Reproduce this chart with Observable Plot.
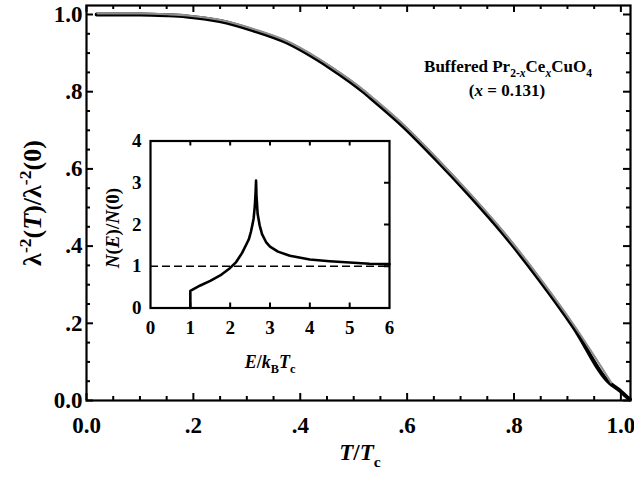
<!DOCTYPE html>
<html><head><meta charset="utf-8">
<script src="https://cdn.jsdelivr.net/npm/d3@7"></script>
<script src="https://cdn.jsdelivr.net/npm/@observablehq/plot@0.6"></script>
<style>
body{margin:0;background:#fff;}
#wrap{position:relative;width:634px;height:478px;background:#fff;}
#wrap svg{position:absolute;}
#wrap svg text{font-family:'Liberation Serif','Times New Roman',serif !important;}
</style></head><body><div id="wrap"></div>
<script>
// ---- main curve: superfluid density λ^-2(T)/λ^-2(0) vs T/Tc ----
const dataT = [0.019, 0.06, 0.10, 0.15, 0.187, 0.249, 0.312, 0.374, 0.43, 0.456, 0.519, 0.531, 0.593, 0.656, 0.718, 0.780, 0.849, 0.911, 0.980];
const dataL = [1.000, 1.000, 1.000, 0.998, 0.995, 0.983, 0.959, 0.928, 0.885, 0.862, 0.799, 0.785, 0.710, 0.622, 0.530, 0.432, 0.310, 0.191, 0.044];
// black fit continues past the data down to zero
const tailT = [0.99, 0.998, 1.008, 1.017];
const tailL = [0.034, 0.026, 0.013, 0.003];

// ---- inset: density of states N(E)/N(0) vs E/kBTc ----
const insetE = [1.0, 1.0, 1.25, 1.5, 1.75, 2.0, 2.15, 2.3, 2.42, 2.47, 2.52, 2.56, 2.59, 2.62, 2.64, 2.65, 2.66, 2.69, 2.74, 2.8, 2.9, 3.0, 3.2, 3.5, 4.0, 4.5, 5.0, 5.5, 6.0];
const insetN = [0.0, 0.41, 0.54, 0.65, 0.78, 0.96, 1.10, 1.32, 1.55, 1.65, 1.82, 2.0, 2.15, 2.45, 2.8, 3.05, 2.7, 2.25, 1.98, 1.77, 1.58, 1.47, 1.35, 1.25, 1.16, 1.12, 1.09, 1.06, 1.05];
const insetRef = [1];

// ---- ticks ----
const mainMajor = [0, 0.2, 0.4, 0.6, 0.8, 1.0];
const mainMajorLabels = ["0.0", ".2", ".4", ".6", ".8", "1.0"];
const mainMinor = [0.05, 0.1, 0.15, 0.25, 0.3, 0.35, 0.45, 0.5, 0.55, 0.65, 0.7, 0.75, 0.85, 0.9, 0.95];
const insetXTicks = [0, 1, 2, 3, 4, 5, 6];
const insetYTicks = [0, 1, 2, 3, 4];

const FONT = "'Liberation Serif', 'Times New Roman', serif";

const W = 634, H = 478, mL = 86, mR = 4, mT = 5, mB = 78;
const iw = W - mL - mR, ih = H - mT - mB;
const blackT = dataT.concat(tailT), blackL = dataL.concat(tailL);
const blackRows = blackT.map((t, i) => ({t, v: blackL[i]}));
const grayRows = dataT.map((t, i) => ({t, v: dataL[i]}));
const fmtMain = d => mainMajorLabels[mainMajor.findIndex(m => Math.abs(m - d) < 1e-9)];

const main = Plot.plot({
  width: W, height: H, marginLeft: mL, marginRight: mR, marginTop: mT, marginBottom: mB,
  x: {domain: [0, 1.018]},
  y: {domain: [0, 1.0233]},
  style: {fontFamily: FONT, fontWeight: "bold", fontSize: "21px", color: "#000", background: "transparent", overflow: "visible"},
  marks: [
    Plot.line(blackRows, {x: "t", y: "v", stroke: "#000", strokeWidth: 4, curve: "monotone-x"}),
    Plot.line(grayRows, {x: "t", y: "v", stroke: "#8e8e8e", strokeWidth: 2.1, dx: 1.0, dy: -1.0, curve: "monotone-x"}),
    // inward ticks bottom / top
    Plot.tickX(mainMajor, {x: d => d, insetTop: ih - 7, strokeWidth: 2}),
    Plot.tickX(mainMinor, {x: d => d, insetTop: ih - 4, strokeWidth: 2}),
    Plot.tickX(mainMajor, {x: d => d, insetBottom: ih - 7, strokeWidth: 2}),
    Plot.tickX(mainMinor, {x: d => d, insetBottom: ih - 4, strokeWidth: 2}),
    // inward ticks left / right
    Plot.tickY(mainMajor, {y: d => d, insetRight: iw - 7, strokeWidth: 2}),
    Plot.tickY(mainMinor, {y: d => d, insetRight: iw - 4, strokeWidth: 2}),
    Plot.tickY(mainMajor, {y: d => d, insetLeft: iw - 7, strokeWidth: 2}),
    Plot.tickY(mainMinor, {y: d => d, insetLeft: iw - 4, strokeWidth: 2}),
    Plot.frame({strokeWidth: 2.2}),
    Plot.axisX(mainMajor, {tickSize: 0, tickPadding: 16, tickFormat: fmtMain, label: null, fontSize: 23, fontFamily: FONT, fontWeight: "bold"}),
    Plot.axisY(mainMajor, {tickSize: 0, tickPadding: 4, tickFormat: fmtMain, label: null, fontSize: 23, fontFamily: FONT, fontWeight: "bold"})
  ]
});
main.style.left = "0px"; main.style.top = "0px"; main.style.width = W + "px"; main.style.maxWidth = "none";

// inset
const IL = 100, IT = 120, IW = 300, IH = 260;
const imL = 50, imR = IW - 289, imT = 20.5, imB = IH - 187.5;
const iiw = IW - imL - imR, iih = IH - imT - imB;
const insetRows = insetE.map((e, i) => ({e, n: insetN[i]}));
const inner = [1, 2, 3, 4, 5];
const inset = Plot.plot({
  width: IW, height: IH, marginLeft: imL, marginRight: imR, marginTop: imT, marginBottom: imB,
  x: {domain: [0, 6]},
  y: {domain: [0, 4]},
  style: {fontFamily: FONT, fontWeight: "bold", fontSize: "18px", color: "#000", background: "transparent", overflow: "visible"},
  marks: [
    Plot.ruleY(insetRef, {y: d => d, stroke: "#000", strokeWidth: 1.6, strokeDasharray: "8,4"}),
    Plot.line(insetRows, {x: "e", y: "n", stroke: "#000", strokeWidth: 2.6, curve: "linear"}),
    Plot.tickX(inner, {x: d => d, insetTop: iih - 5, strokeWidth: 2}),
    Plot.tickX(inner, {x: d => d, insetBottom: iih - 5, strokeWidth: 2}),
    Plot.tickY([1, 2, 3], {y: d => d, insetLeft: iiw - 5, strokeWidth: 2}),
    Plot.frame({strokeWidth: 2.2}),
    Plot.axisX(insetXTicks, {tickSize: 0, tickPadding: 12, label: null, fontSize: 19, fontFamily: FONT, fontWeight: "bold"}),
    Plot.axisY(insetYTicks, {tickSize: 0, tickPadding: 9, label: null, fontSize: 19, fontFamily: FONT, fontWeight: "bold"})
  ]
});
inset.style.left = IL + "px"; inset.style.top = IT + "px"; inset.style.width = IW + "px"; inset.style.maxWidth = "none";

const wrap = document.getElementById("wrap");
wrap.appendChild(main);
wrap.appendChild(inset);

function rich(svg, x, y, parts, size, rotate = 0, anchor = "middle") {
  const t = d3.select(svg).append("text")
    .attr("transform", `translate(${x},${y}) rotate(${rotate})`)
    .attr("text-anchor", anchor).attr("font-family", FONT).attr("font-weight", "bold")
    .attr("font-size", size).attr("fill", "#000").attr("stroke", "none");
  let cur = 0;
  for (const [s, o = {}] of parts) {
    const shift = o.sub ? size * 0.3 : o.sup ? -size * 0.4 : 0;
    const ts = t.append("tspan").text(s).attr("dy", shift - cur);
    if (o.sub || o.sup) ts.attr("font-size", size * 0.68);
    if (o.it) ts.attr("font-style", "italic");
    cur = shift;
  }
  return t;
}

// main axis titles
rich(main, 360, 460, [["T", {it: 1}], ["/"], ["T", {it: 1}], ["c", {sub: 1}]], 23);
rich(main, 41, 203, [["λ"], ["-2", {sup: 1}], ["("], ["T", {it: 1}], [")/λ"], ["-2", {sup: 1}], ["(0)"]], 26, -90);
// annotation
rich(main, 508, 72, [["Buffered Pr"], ["2-", {sub: 1}], ["x", {sub: 1, it: 1}], ["Ce"], ["x", {sub: 1, it: 1}], ["CuO"], ["4", {sub: 1}]], 17);
rich(main, 507, 96, [["("], ["x", {it: 1}], [" = 0.131)"]], 17);
// inset titles
rich(inset, 270 - IL, 368 - IT, [["E", {it: 1}], ["/"], ["k", {it: 1}], ["B", {sub: 1}], ["T", {it: 1}], ["c", {sub: 1}]], 18);
rich(inset, 119 - IL, 228 - IT, [["N", {it: 1}], ["("], ["E", {it: 1}], [")/"], ["N", {it: 1}], ["(0)"]], 19, -90);
</script></body></html>
